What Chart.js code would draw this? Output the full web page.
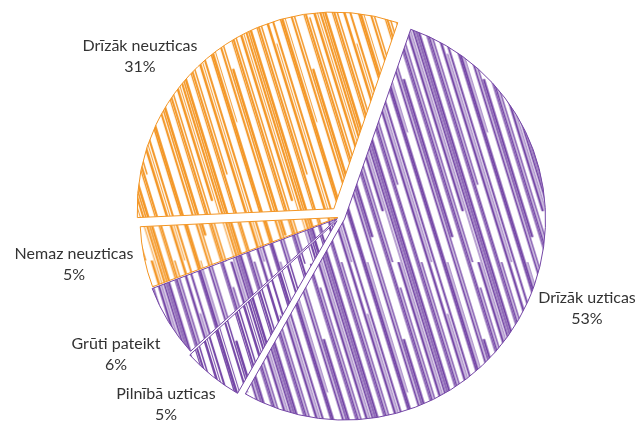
<!DOCTYPE html>
<html>
<head>
<meta charset="utf-8">
<script src="https://cdn.jsdelivr.net/npm/chart.js@4"></script>
<style>
  html, body { margin: 0; padding: 0; background: #fff; }
</style>
</head>
<body>
<canvas id="pie" width="640" height="421"></canvas>
<script>
// data, clockwise from the slice that starts at the top right
const labels = ['Drīzāk uzticas', 'Pilnībā uzticas', 'Grūti pateikt', 'Nemaz neuzticas', 'Drīzāk neuzticas'];
const shares = [53, 5, 6, 5, 31];

const ORANGE = '#f39523';
const PURPLE = '#7446a6';
const sliceColors = [PURPLE, PURPLE, PURPLE, ORANGE, ORANGE];
const pullOut = [10, 8, 5, 4, 11];   // px each slice is pulled from the centre
// first line of each label, relative to the pie centre
const labelPos = [[247, 81], [-174, 177], [-224, 127], [-266, 37], [-200, -171]];

// hand-drawn looking hatch: [x, width, from, to] along a steep diagonal
const STROKES = [
  [0, 2, 0, 1], [2.5, 1.5, 0, 1], [5, 2.5, 0, 1],
  [12, 1.2, 0, 1], [14, 2, 0, 1], [17, 1.5, 0, 0.7],
  [24, 2.5, 0, 1], [27, 1, 0.2, 1], [30, 2, 0, 1],
  [38, 1.5, 0, 1], [40, 2.5, 0, 1], [43, 1, 0, 0.5],
  [50, 2, 0, 1], [53, 1.5, 0, 1], [55.5, 2.5, 0.3, 0.9],
  [63, 1.2, 0, 1], [65, 2, 0, 1], [68, 1.5, 0.1, 1],
  [74, 2.5, 0, 0.8], [77, 1, 0, 1],
];

function sketchFill(color) {
  const W = 80, H = 260;
  const c = document.createElement('canvas');
  c.width = W; c.height = H;
  const g = c.getContext('2d');
  g.strokeStyle = color;
  g.lineCap = 'round';
  STROKES.forEach(([x, w, t0, t1]) => {
    g.lineWidth = w;
    [-W, 0, W].forEach((k) => {
      g.beginPath();
      g.moveTo(x + k + t0 * W, t0 * H);
      g.lineTo(x + k + t1 * W, t1 * H);
      g.stroke();
    });
  });
  return g.createPattern(c, 'repeat');
}

// chart.js moves an arc by offset/4 * (2 - sin(min(PI, circumference)))
const total = shares.reduce((a, b) => a + b, 0);
const offsets = shares.map((v, i) => {
  const circ = (v / total) * Math.PI * 2;
  const fix = 1 - Math.sin(Math.min(Math.PI, circ));
  return (4 * pullOut[i]) / (1 + fix);
});

const outsideLabels = {
  id: 'outsideLabels',
  afterDatasetsDraw(chart) {
    const { ctx } = chart;
    const arcs = chart.getDatasetMeta(0).data;
    ctx.save();
    ctx.font = '16px Lato';
    ctx.fillStyle = '#333333';
    ctx.textAlign = 'center';
    ctx.textBaseline = 'middle';
    arcs.forEach((arc, i) => {
      const [dx, dy] = labelPos[i];
      ctx.fillText(labels[i], arc.x + dx, arc.y + dy);
      ctx.fillText(shares[i] + '%', arc.x + dx, arc.y + dy + 21);
    });
    ctx.restore();
  },
};

new Chart(document.getElementById('pie'), {
  type: 'pie',
  data: {
    labels,
    datasets: [{
      data: shares,
      backgroundColor: sliceColors.map(sketchFill),
      borderColor: sliceColors,
      borderWidth: 1,
      offset: offsets,
    }],
  },
  options: {
    responsive: false,
    animation: false,
    rotation: 19,
    radius: 196,
    layout: { padding: { left: 40, top: 13 } },
    plugins: { legend: { display: false }, tooltip: { enabled: false } },
  },
  plugins: [outsideLabels],
});
</script>
</body>
</html>
